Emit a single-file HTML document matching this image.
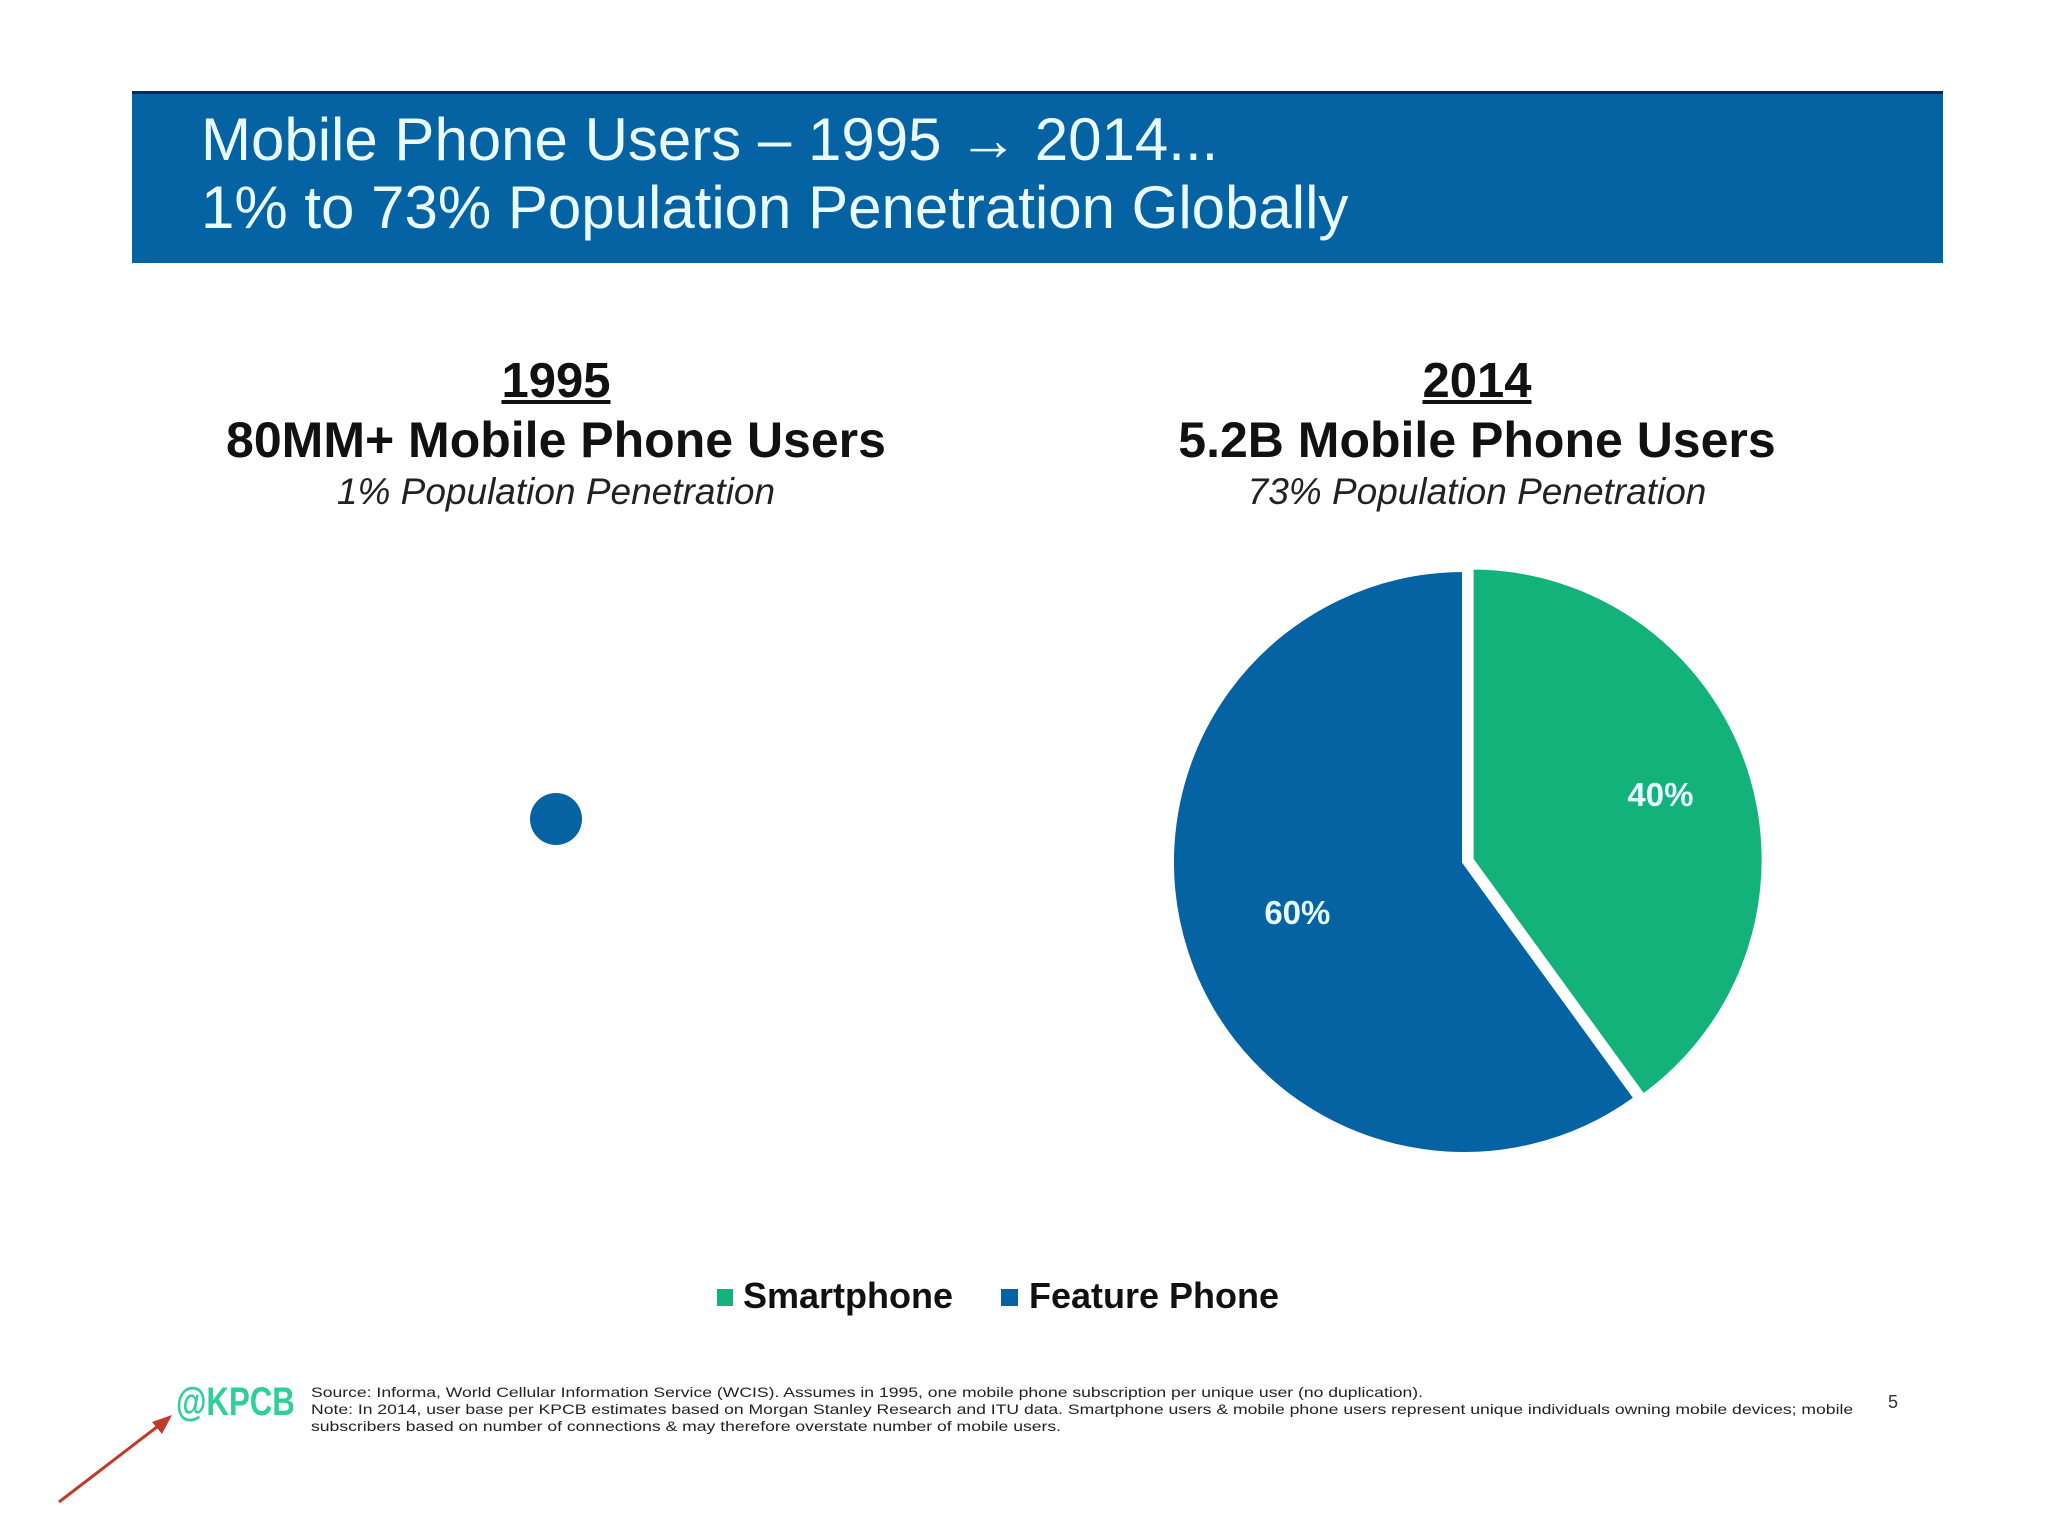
<!DOCTYPE html>
<html><head><meta charset="utf-8"><style>
body{margin:0;width:2048px;height:1536px;background:#fff;overflow:hidden;font-family:"Liberation Sans",sans-serif;position:relative}
.a{position:absolute;white-space:nowrap}
</style></head><body>
<div class="a" style="left:132px;top:91px;width:1811px;height:172px;background:#0562a3;border-top:3px solid #0a2a55;box-sizing:border-box"></div>
<div class="a" style="left:201px;top:106px;font-size:60px;color:#e9fbff;line-height:68px">Mobile Phone Users – 1995 <b style="font-weight:bold">→</b> 2014...</div>
<div class="a" style="left:201px;top:174px;font-size:60px;color:#e9fbff;line-height:68px">1% to 73% Population Penetration Globally</div>

<div class="a" style="left:356px;width:400px;text-align:center;top:353px;font-size:49px;font-weight:bold;text-decoration:underline;color:#111">1995</div>
<div class="a" style="left:156px;width:800px;text-align:center;top:411px;font-size:50px;font-weight:bold;color:#111">80MM+ Mobile Phone Users</div>
<div class="a" style="left:156px;width:800px;text-align:center;top:471px;font-size:37px;font-style:italic;color:#222">1% Population Penetration</div>

<div class="a" style="left:1277px;width:400px;text-align:center;top:353px;font-size:49px;font-weight:bold;text-decoration:underline;color:#111">2014</div>
<div class="a" style="left:1077px;width:800px;text-align:center;top:411px;font-size:50px;font-weight:bold;color:#111">5.2B Mobile Phone Users</div>
<div class="a" style="left:1077px;width:800px;text-align:center;top:471px;font-size:37px;font-style:italic;color:#222">73% Population Penetration</div>

<svg class="a" style="left:0;top:0" width="2048" height="1536">
<circle cx="556" cy="819" r="26" fill="#0562a3"/>
<g id="pie"></g>
<line x1="59" y1="1502" x2="166" y2="1420" stroke="#c0392b" stroke-width="3"/>
<polygon points="172,1415 152,1422 162,1434" fill="#c0392b"/>
</svg>

<div class="a" style="left:717px;top:1275px;font-size:36px;font-weight:bold;color:#111"><span style="display:inline-block;width:16px;height:17px;background:#13b27a;margin-right:10px;vertical-align:2px"></span>Smartphone</div>
<div class="a" style="left:1001px;top:1275px;font-size:36px;font-weight:bold;color:#111"><span style="display:inline-block;width:17px;height:17px;background:#0562a3;margin-right:11px;vertical-align:2px"></span>Feature Phone</div>

<div class="a" style="left:176px;top:1380px;font-size:40px;font-weight:bold;color:#2fcf98;transform:scaleX(0.78);transform-origin:left">@KPCB</div>
<div class="a" style="left:311px;top:1384px;font-size:14px;line-height:17px;color:#222;transform:scaleX(1.255);transform-origin:left">Source: Informa, World Cellular Information Service (WCIS). Assumes in 1995, one mobile phone subscription per unique user (no duplication).<br>Note: In 2014, user base per KPCB estimates based on Morgan Stanley Research and ITU data. Smartphone users &amp; mobile phone users represent unique individuals owning mobile devices; mobile<br>subscribers based on number of connections &amp; may therefore overstate number of mobile users.</div>
<div class="a" style="left:1888px;top:1392px;font-size:18px;color:#333">5</div>

<script>
const categories=["Smartphone","Feature Phone"];
const shares=[40,60];
const colors=["#13b27a","#0562a3"];
const g=document.getElementById('pie');
const cx=1464,cy=862,r=292,NS="http://www.w3.org/2000/svg";
let a0=-Math.PI/2;
const total=shares.reduce((s,v)=>s+v,0);
shares.forEach((v,i)=>{
  const a1=a0+v/total*2*Math.PI;
  const mid=(a0+a1)/2;
  const off=i===0?8:0;
  const ox=cx+off*Math.cos(mid),oy=cy+off*Math.sin(mid);
  const large=(a1-a0)>Math.PI?1:0;
  const p=document.createElementNS(NS,'path');
  p.setAttribute('d',`M${ox},${oy} L${ox+r*Math.cos(a0)},${oy+r*Math.sin(a0)} A${r},${r} 0 ${large} 1 ${ox+r*Math.cos(a1)},${oy+r*Math.sin(a1)} Z`);
  p.setAttribute('fill',colors[i]);
  p.setAttribute('stroke','#fff');
  p.setAttribute('stroke-width','4');
  
  
  g.appendChild(p);
  const t=document.createElementNS(NS,'text');
  const lr=r*(i===0?0.68:0.6);
  t.setAttribute('x',ox+lr*Math.cos(mid));
  t.setAttribute('y',oy+lr*Math.sin(mid)+8);
  t.setAttribute('text-anchor','middle');
  t.setAttribute('font-size','33');
  t.setAttribute('font-weight','bold');
  t.setAttribute('fill','#e6fbff');
  t.setAttribute('font-family','Liberation Sans, sans-serif');
  t.textContent=v+'%';
  
  
  g.appendChild(t);
  a0=a1;
});
</script>
</body></html>
